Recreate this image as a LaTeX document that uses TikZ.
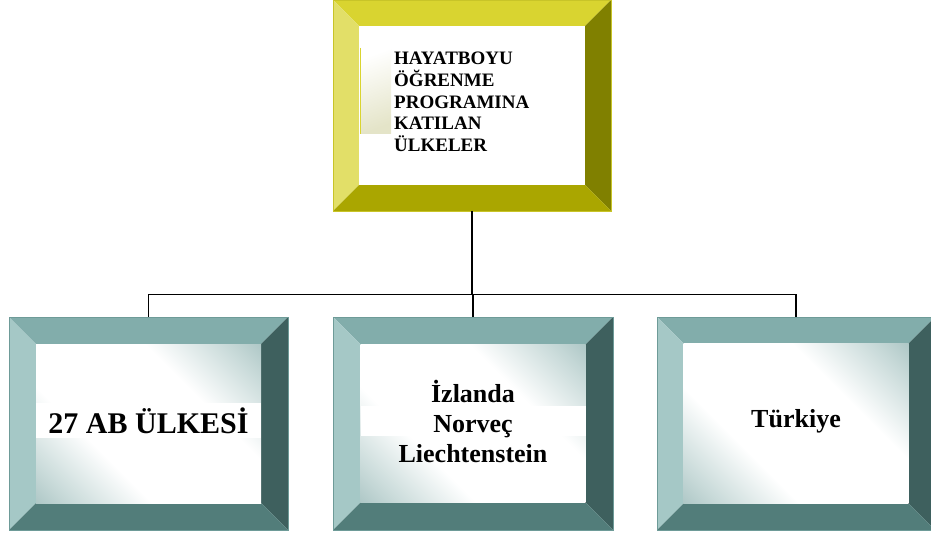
\documentclass[tikz,border=0pt]{standalone}
\usepackage{fontspec}
\setmainfont{Liberation Serif}
\definecolor{yeT}{RGB}{217,212,48}
\definecolor{yeL}{RGB}{226,223,104}
\definecolor{yeR}{RGB}{128,128,0}
\definecolor{yeB}{RGB}{170,166,0}
\definecolor{yeE}{RGB}{200,196,40}
\definecolor{tlT}{RGB}{130,173,171}
\definecolor{tlL}{RGB}{165,200,198}
\definecolor{tlR}{RGB}{62,96,94}
\definecolor{tlB}{RGB}{82,125,122}
\definecolor{tlE}{RGB}{110,155,152}
\definecolor{tlC}{RGB}{118,160,158}
\definecolor{tlM}{RGB}{196,215,214}
\definecolor{patchA}{RGB}{228,228,200}
\pgfdeclarehorizontalshading{innerteal}{100bp}{color(0bp)=(tlC); color(20bp)=(tlM); color(36bp)=(white); color(64bp)=(white); color(80bp)=(tlM); color(100bp)=(tlC)}
\newcommand\bevelbox[7]{%
  \fill[#7T] (#2,#3) -- (#4,#3) -- ({#4-#6},{#3+#6}) -- ({#2+#6},{#3+#6}) -- cycle;
  \fill[#7L] (#2,#3) -- ({#2+#6},{#3+#6}) -- ({#2+#6},{#5-#6}) -- (#2,#5) -- cycle;
  \fill[#7R] (#4,#3) -- (#4,#5) -- ({#4-#6},{#5-#6}) -- ({#4-#6},{#3+#6}) -- cycle;
  \fill[#7B] (#2,#5) -- ({#2+#6},{#5-#6}) -- ({#4-#6},{#5-#6}) -- (#4,#5) -- cycle;
  \node[draw=#7E, line width=0.8pt, inner sep=0pt, minimum width={(#4-#2)*1pt}, minimum height={(#5-#3)*1pt}] (#1) at ({(#2+#4)/2},{(#3+#5)/2}) {};
}
\tikzset{
  conn/.style={draw=black, line width=1.4pt},
  innershade/.style={shading=innerteal, shading angle=45},
  boxtext/.style={font=\bfseries, text=black, inner sep=0pt, align=center},
}
\begin{document}
\begin{tikzpicture}[x=1pt,y=-1pt]
\useasboundingbox (0,0) rectangle (931,537);
\clip (0,0) rectangle (931,537);
\fill[white] (0,0) rectangle (931,537);
% top box
\bevelbox{top}{333}{0}{611}{211}{26}{ye}
\fill[white] (359,26) rectangle (585,185);
\fill[top color=white, bottom color=patchA, shading angle=20] (360,48) rectangle (391,134);
\draw[yeT, line width=1pt] (360.5,48) -- (360.5,134);
\node[font=\bfseries\fontsize{19}{21.7}\selectfont, inner sep=0pt, align=left, anchor=west] (ttext) at (394,102) {HAYATBOYU\\ÖĞRENME\\PROGRAMINA\\KATILAN\\ÜLKELER};
% bottom boxes
\bevelbox{b1}{9}{317}{288}{530}{27}{tl}
\fill[innershade] (36,344) rectangle (261,503);
\fill[white] (36,403) rectangle (261,438);
\node[boxtext, font=\bfseries\fontsize{30}{32}\selectfont] (t1) at (148.5,421) {27 AB ÜLKESİ};
\bevelbox{b2}{333}{317}{613}{530}{27.5}{tl}
\fill[innershade] (360.5,344.5) rectangle (585.5,502.5);
\fill[white] (360.5,406) rectangle (585.5,436);
\node[boxtext, font=\bfseries\fontsize{26}{30}\selectfont] (t2) at (473,421) {İzlanda\\Norveç\\Liechtenstein};
\bevelbox{b3}{657}{317}{935}{530}{26.5}{tl}
\fill[innershade] (683.5,343.5) rectangle (908.5,503.5);
\node[boxtext, font=\bfseries\fontsize{26}{30}\selectfont] (t3) at (796,421) {Türkiye};
% connectors
\coordinate (hy) at (0,294.5);
\draw[conn] (top.south) -- (top.south |- hy);
\draw[conn] (b1.north) -- (b1.north |- hy) -- (b3.north |- hy) -- (b3.north);
\draw[conn] (b2.north) -- (b2.north |- hy);
\end{tikzpicture}
\end{document}
